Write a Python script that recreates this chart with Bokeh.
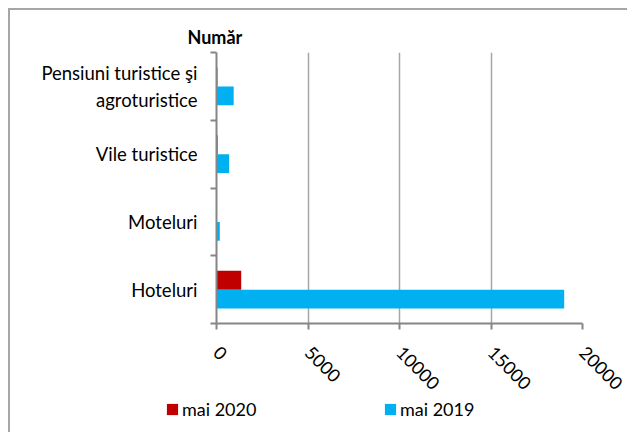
import math
from bokeh.plotting import figure
from bokeh.layouts import column
from bokeh.models import (ColumnDataSource, Range1d, FixedTicker, Legend, LegendItem)
from bokeh.transform import dodge
from bokeh.embed import file_html
from bokeh.resources import INLINE

# ---- data ----
categories = ["Hoteluri", "Moteluri", "Vile turistice", "Pensiuni turistice şi agroturistice"]
category_labels = ["Hoteluri", "Moteluri", "Vile turistice", "Pensiuni turistice şi\nagroturistice"]
mai_2020 = [1350, 10, 60, 50]
mai_2019 = [19000, 180, 690, 940]
x_ticks = [0, 5000, 10000, 15000, 20000]
series_names = ["mai 2020", "mai 2019"]
series_colors = ["#C00000", "#00B0F0"]

FONT = "Lato"
AXIS_COLOR = "#868686"
GRID_COLOR = "#a6a6a6"

pos = [i + 0.5 for i in range(len(categories))]
bounds = [float(i) for i in range(len(categories) + 1)]

src = ColumnDataSource(dict(cat=categories, pos=pos, v20=mai_2020, v19=mai_2019))
value_cols = ["v20", "v19"]
offsets = [0.14, -0.14]

p = figure(width=617, height=388, output_backend="svg", toolbar_location=None,
           x_range=Range1d(0, 20000), y_range=Range1d(0, len(categories)),
           min_border_left=206, min_border_right=45, min_border_top=42, min_border_bottom=75,
           title="Număr")
p.frame_align = False

for col, off, c in zip(value_cols, offsets, series_colors):
    p.hbar(y=dodge("pos", off, range=p.y_range), right=col, left=0, height=0.28,
           source=src, fill_color=c, line_color=None)

p.outline_line_color = None

# x axis
xa = p.xaxis[0]
xa.ticker = FixedTicker(ticks=x_ticks)
xa.major_label_orientation = -math.pi / 4
xa.major_label_text_font = FONT
xa.major_label_text_font_size = "18px"
xa.major_label_text_color = "#000000"
xa.axis_line_color = AXIS_COLOR
xa.axis_line_width = 2
xa.major_tick_line_color = AXIS_COLOR
xa.major_tick_line_width = 2
xa.major_tick_out = 6
xa.major_tick_in = 0
xa.minor_tick_line_color = None
xa.major_label_standoff = 20

# y axis
ya = p.yaxis[0]
ya.ticker = FixedTicker(ticks=pos, minor_ticks=bounds)
ya.major_label_overrides = {pv: lab for pv, lab in zip(pos, category_labels)}
ya.major_label_text_font = FONT
ya.major_label_text_font_size = "18.5px"
ya.major_label_text_color = "#000000"
ya.major_label_text_align = "right"
ya.axis_line_color = AXIS_COLOR
ya.axis_line_width = 2
ya.major_tick_line_color = None
ya.major_tick_out = 0
ya.major_tick_in = 0
ya.minor_tick_line_color = AXIS_COLOR
ya.minor_tick_line_width = 2
ya.minor_tick_out = 6
ya.minor_tick_in = 0
ya.major_label_standoff = 13

p.xgrid.ticker = FixedTicker(ticks=x_ticks)
p.xgrid.grid_line_color = GRID_COLOR
p.xgrid.grid_line_width = 1.5
p.ygrid.grid_line_color = None

# title ("Număr")
p.title.text_font = FONT
p.title.text_font_style = "bold"
p.title.text_font_size = "18px"
p.title.text_color = "#000000"
p.title.align = "left"
p.title.offset = -29

# legend strip (separate small figure so the legend is not clipped by the main frame)
q = figure(width=617, height=34, output_backend="svg", toolbar_location=None,
           x_range=Range1d(0, 1), y_range=Range1d(0, 1),
           x_axis_location=None, y_axis_location=None, min_border=0)
q.frame_align = False
q.outline_line_color = None
q.xgrid.grid_line_color = None
q.ygrid.grid_line_color = None
lr = [q.hbar(y="pos", right=col, left=0, height=0.28, source=src, visible=False,
             fill_color=c, line_color=None) for col, c in zip(value_cols, series_colors)]

legend = Legend(items=[LegendItem(label=n, renderers=[r]) for n, r in zip(series_names, lr)],
                orientation="horizontal", location=(155, 12))
legend.label_text_font = FONT
legend.label_text_font_size = "18px"
legend.label_text_color = "#000000"
legend.glyph_width = 14
legend.glyph_height = 14
legend.label_standoff = 3
legend.label_width = 201
legend.spacing = 0
legend.padding = 0
legend.margin = 0
legend.border_line_color = None
legend.background_fill_alpha = 0
q.add_layout(legend, "center")

layout = column(p, q, spacing=0)
layout.styles = {"border-left": "2px solid #a6a6a6", "border-top": "2px solid #a6a6a6",
                 "margin-left": "8px", "margin-top": "8px"}

open("out.html", "w").write(file_html(layout, INLINE))
